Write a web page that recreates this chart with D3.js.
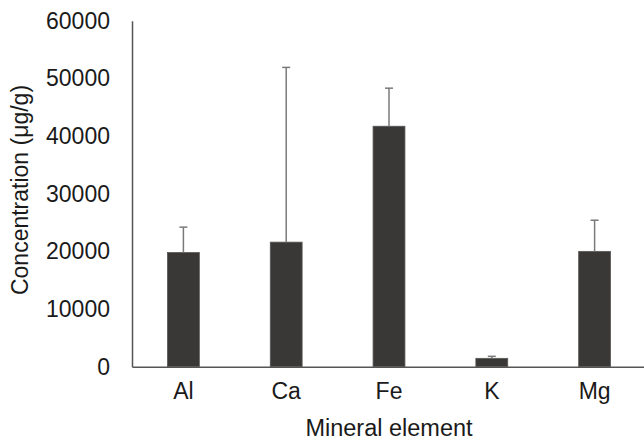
<!DOCTYPE html>
<html>
<head>
<meta charset="utf-8">
<script src="https://cdn.jsdelivr.net/npm/d3@7"></script>
<style>
  body { margin: 0; background: #fff; }
  svg text { font-family: "Liberation Sans", Arial, sans-serif; fill: #1a1a1a; }
</style>
</head>
<body>
<svg></svg>
<script>
// chart data
var elements = ["Al", "Ca", "Fe", "K", "Mg"];
var means = [19800, 21600, 41700, 1450, 20000];
var upperErr = [24200, 51900, 48300, 1800, 25400];
var yTicks = [0, 10000, 20000, 30000, 40000, 50000, 60000];

var svg = d3.select("svg")
  .attr("width", 644)
  .attr("height", 441);

var x = d3.scaleBand()
  .domain(elements)
  .range([132, 646])
  .paddingInner(0.69)
  .paddingOuter(0.345);

var y = d3.scaleLinear()
  .domain([0, 60000])
  .range([366.7, 20.7]);

// bars
svg.selectAll("rect.bar")
  .data(elements).enter()
  .append("rect")
  .attr("class", "bar")
  .attr("x", function(d) { return x(d); })
  .attr("y", function(d, i) { return y(means[i]); })
  .attr("width", x.bandwidth())
  .attr("height", function(d, i) { return y(0) - y(means[i]); })
  .attr("fill", "#3a3836")
  .attr("stroke", "#5a5856")
  .attr("stroke-width", 0.8);

// error bars (upper only)
var errG = svg.selectAll("g.err")
  .data(elements).enter()
  .append("g")
  .attr("class", "err")
  .attr("stroke", "#7a7a7a")
  .attr("stroke-width", 1.5);

errG.append("line")
  .attr("x1", function(d) { return x(d) + x.bandwidth() / 2; })
  .attr("x2", function(d) { return x(d) + x.bandwidth() / 2; })
  .attr("y1", function(d, i) { return y(means[i]); })
  .attr("y2", function(d, i) { return y(upperErr[i]); });

errG.append("line")
  .attr("x1", function(d) { return x(d) + x.bandwidth() / 2 - 4; })
  .attr("x2", function(d) { return x(d) + x.bandwidth() / 2 + 4; })
  .attr("y1", function(d, i) { return y(upperErr[i]); })
  .attr("y2", function(d, i) { return y(upperErr[i]); });

// y axis
var yAxis = svg.append("g")
  .attr("transform", "translate(132,0)")
  .call(d3.axisLeft(y).tickValues(yTicks).tickSize(0).tickPadding(22).tickFormat(d3.format("d")));
yAxis.select(".domain").attr("stroke", "#555").attr("stroke-width", 1.5);
yAxis.selectAll("text")
  .attr("font-size", 23)
  .attr("fill", "#1a1a1a")
  .attr("font-family", "Liberation Sans, Arial, sans-serif");

// x axis
var xAxis = svg.append("g")
  .attr("transform", "translate(0,366.7)")
  .call(d3.axisBottom(x).tickSize(0).tickPadding(16));
xAxis.select(".domain").attr("stroke", "#555").attr("stroke-width", 1.5);
xAxis.selectAll("text")
  .attr("font-size", 23)
  .attr("fill", "#1a1a1a")
  .attr("font-family", "Liberation Sans, Arial, sans-serif");

// axis titles
svg.append("text")
  .attr("x", 389)
  .attr("y", 436)
  .attr("text-anchor", "middle")
  .attr("font-size", 23.5)
  .text("Mineral element");

svg.append("text")
  .attr("transform", "translate(28,190) rotate(-90)")
  .attr("text-anchor", "middle")
  .attr("font-size", 23)
  .text("Concentration (μg/g)");
</script>
</body>
</html>
